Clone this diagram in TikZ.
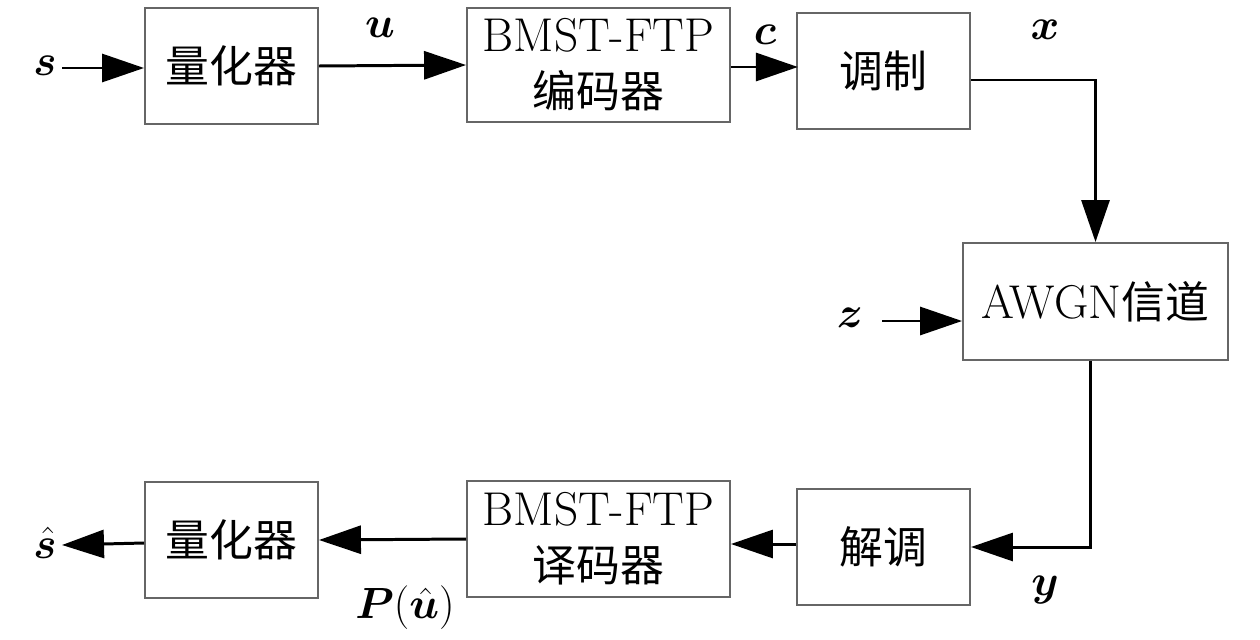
\documentclass[tikz,border=0pt]{standalone}
\usepackage{fontspec}
\usepackage{amsmath}
\usepackage{bm}
\newfontfamily\cjk{Noto Sans CJK SC}[Scale=0.925]
\usetikzlibrary{arrows.meta}
\begin{document}
\begin{tikzpicture}[x=0.02cm,y=-0.02cm,
  blk/.style={draw=black!60, line width=1.1pt, fill=white, align=center, inner sep=0pt, font=\fontsize{27}{32}\selectfont},
  small/.style={blk, minimum width=3.46cm, minimum height=2.32cm},
  wide/.style={blk, minimum width=5.26cm, minimum height=2.30cm},
  con/.style={line width=1.7pt, -{Triangle[length=0.84cm,width=0.56cm]}},
  lab/.style={font=\fontsize{25}{30}\selectfont, inner sep=0pt}]
\useasboundingbox (0,0) rectangle (1260,639);
% blocks
\node[small] (q1) at (231.5,66) {\cjk 量化器};
\node[wide, minimum height=2.28cm] (enc) at (598.5,65) {BMST-FTP\\\cjk 编码器};
\node[small] (mod) at (883.5,71) {\cjk 调制};
\node[wide, minimum width=5.30cm, minimum height=2.34cm] (awgn) at (1095.5,301.5) {AWGN\cjk 信道};
\node[small] (demod) at (883.5,547) {\cjk 解调};
\node[wide, minimum height=2.32cm] (dec) at (598.5,539) {BMST-FTP\\\cjk 译码器};
\node[small] (q2) at (231.5,540) {\cjk 量化器};
% labels
\node[lab] (ls) at (45,66) {$\bm{s}$};
\node[lab] (lu) at (380,28) {$\bm{u}$};
\node[lab] (lc) at (765,35) {$\bm{c}$};
\node[lab] (lx) at (1045,30) {$\bm{x}$};
\node[lab] (lz) at (850,318) {$\bm{z}$};
\node[lab] (ly) at (1045,590) {$\bm{y}$};
\node[lab] (lp) at (405,608) {$\bm{P}(\hat{\bm{u}})$};
\node[lab] (lsh) at (45,543) {$\hat{\bm{s}}$};
% free ends
\coordinate (sin) at (62,68);
\coordinate (zin) at (882,321);
\coordinate (sout) at (62,545);
% connectors
\draw[con] (sin) -- (sin -| q1.west);
\draw[con] (q1.east) -- (enc.west);
\draw[con] (enc.east) ++(0,2) -- ++(67,0);
\draw[con] ([yshift=-0.18cm]mod.east) -| (awgn.north);
\draw[con] (zin) -- (zin -| awgn.west);
\draw[con] ([xshift=-0.1cm]awgn.south) |- (demod.east);
\draw[con] (demod.west) ++(0,-3) -- (dec.east |- 0,544);
\draw[con] (dec.west) -- (q2.east);
\draw[con] (q2.west) ++(0,3) -- (sout);
\end{tikzpicture}
\end{document}
